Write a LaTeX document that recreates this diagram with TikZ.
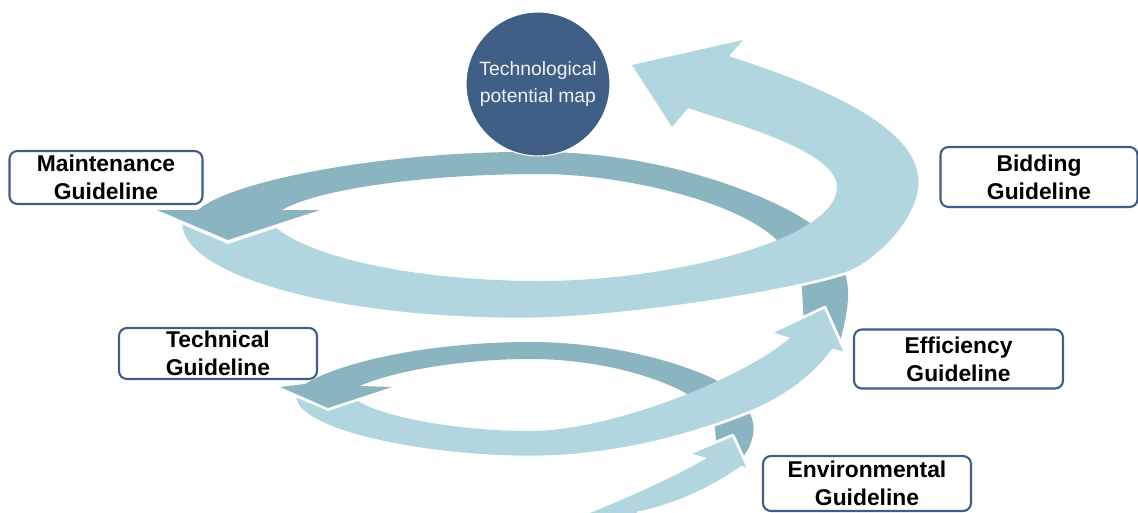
\documentclass[tikz,border=0pt]{standalone}
\usepackage{fontspec}
\setmainfont{Liberation Sans}
\usepackage{xcolor}
\usepackage{tikz}
\definecolor{bandlight}{RGB}{177,214,223}
\definecolor{banddark}{RGB}{138,181,192}
\definecolor{hubblue}{RGB}{63,95,134}
\definecolor{boxblue}{RGB}{62,94,136}
\begin{document}
\begin{tikzpicture}
        [
            x = 0.02cm, y = -0.02cm,
            lightband/.style = {fill = bandlight},
            darkband/.style = {fill = banddark},
            gap/.style = {draw = white, line width = 1.5pt, line join = round},
            guide/.style = {draw = boxblue, line width = 1.2pt, rounded corners = 4.5pt, fill = white,
                align = center, inner sep = 0pt, font = \fontsize{13}{16}\selectfont\bfseries},
            hub/.style = {circle, fill = hubblue, draw = white, line width = 0.6pt, minimum size = 2.88cm,
                align = center, inner sep = 0pt, text = white!92!hubblue, font = \fontsize{11}{15.4}\selectfont}]
        \useasboundingbox (0,0) rectangle (1138,513);
        \fill[darkband] (805,342) -- (802,290) .. controls (800,265) and (790,250) .. (777,240)
            .. controls (735,200) and (620,174) .. (540,174)
            .. controls (430,174) and (320,188) .. (282,210)
            -- (320,210) -- (228,240) -- (157,210) -- (198,210)
            .. controls (235,178) and (400,150) .. (540,152)
            .. controls (660,152) and (770,195) .. (810,223)
            .. controls (835,245) and (850,270) .. (848,300)
            .. controls (846,320) and (842,335) .. (838,348) -- cycle;
        \fill[darkband] (717,456) -- (715,428) .. controls (712,415) and (705,405) .. (697,400)
            .. controls (665,378) and (600,359) .. (530,359)
            .. controls (460,359) and (390,372) .. (360,386)
            -- (392,387) -- (328,408) -- (280,387) -- (305,384)
            .. controls (340,362) and (430,342) .. (530,342)
            .. controls (620,342) and (700,368) .. (730,388)
            .. controls (748,405) and (756,420) .. (753,435)
            .. controls (751,445) and (747,452) .. (742,458) -- cycle;
        \fill[lightband] (181,224) -- (228,244) -- (276,228)
            .. controls (320,262) and (430,281) .. (540,281)
            .. controls (670,281) and (837,240) .. (837,187)
            .. controls (837,150) and (728,122) .. (688,108)
            -- (672,127) -- (632,65) -- (743,40) -- (730,55)
            .. controls (800,78) and (920,120) .. (920,182)
            .. controls (920,220) and (875,263) .. (847,273)
            .. controls (790,292) and (620,319) .. (520,319)
            .. controls (330,319) and (181,275) .. (181,224) -- cycle;
        \draw[gap] (730,55) .. controls (800,78) and (920,120) .. (920,182)
            .. controls (920,220) and (875,263) .. (847,273)
            .. controls (790,292) and (620,319) .. (520,319)
            .. controls (330,319) and (181,275) .. (181,224);
        \fill[lightband] (295,397) -- (328,411) -- (358,401)
            .. controls (385,418) and (460,431) .. (530,431)
            .. controls (610,431) and (740,380) .. (790,338)
            -- (772,332) -- (825,307) -- (846,354) -- (833,350)
            .. controls (815,375) and (785,398) .. (750,412)
            .. controls (700,432) and (620,457) .. (530,457)
            .. controls (420,457) and (295,430) .. (295,397) -- cycle;
        \draw[gap] (772,332) -- (825,307) -- (846,354) -- (833,350)
            .. controls (815,375) and (785,398) .. (750,412)
            .. controls (700,432) and (620,457) .. (530,457)
            .. controls (420,457) and (295,430) .. (295,397);
        \fill[lightband] (590,513) .. controls (630,497) and (680,474) .. (707,458)
            -- (690,453) -- (733,435) -- (750,472) -- (742,467)
            .. controls (710,490) and (670,507) .. (637,513) -- cycle;
        \draw[gap] (690,453) -- (733,435) -- (750,472) -- (742,467)
            .. controls (710,490) and (670,507) .. (637,513);
        \node[hub] (map) at (538,84) {Technological\\potential map};
        \node[guide, minimum width=3.86cm, minimum height=1.06cm] (maint) at (106,177.5) {Maintenance\\Guideline};
        \node[guide, minimum width=3.94cm, minimum height=1.2cm] (bid) at (1039,177) {Bidding\\Guideline};
        \node[guide, minimum width=3.96cm, minimum height=1.02cm] (tech) at (218,353.5) {Technical\\Guideline};
        \node[guide, minimum width=4.18cm, minimum height=1.18cm] (eff) at (958.5,359) {Efficiency\\Guideline};
        \node[guide, minimum width=4.16cm, minimum height=1.1cm] (env) at (867,483.5) {Environmental\\Guideline};
    \end{tikzpicture}
\end{document}
